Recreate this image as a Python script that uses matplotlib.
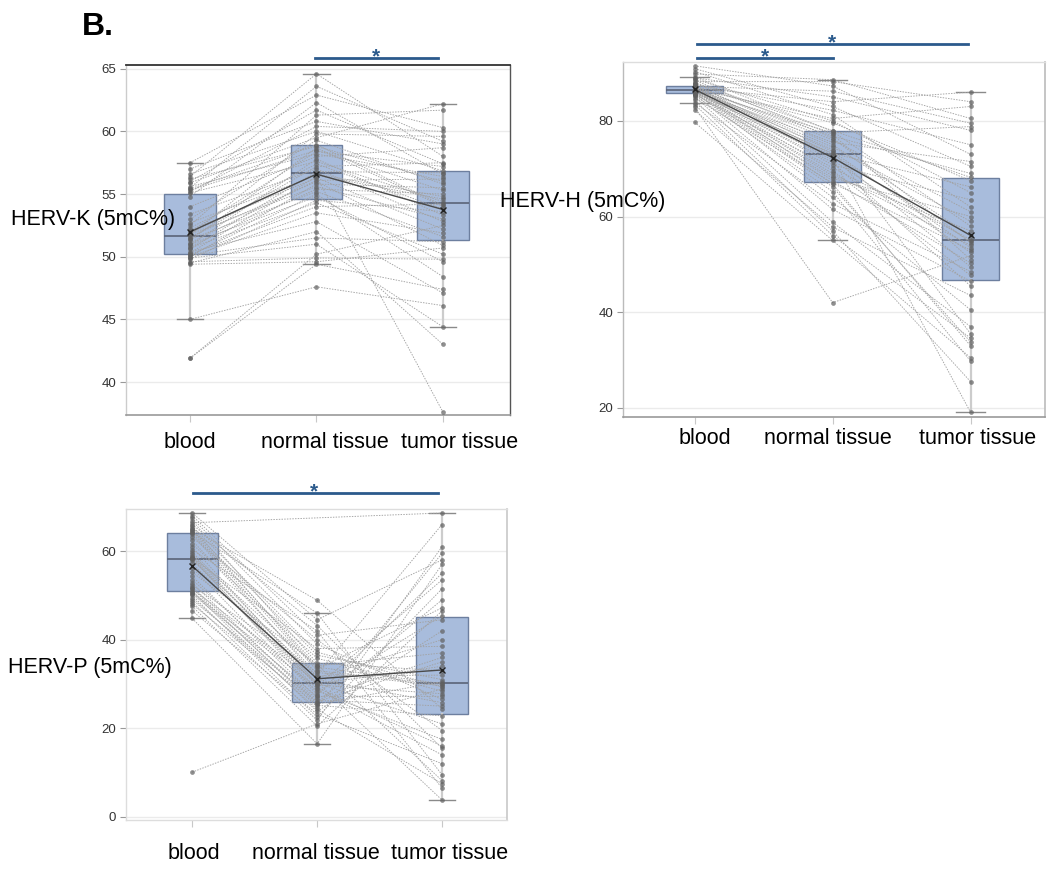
import matplotlib
matplotlib.use('Agg')
import matplotlib.pyplot as plt
from matplotlib.lines import Line2D
from matplotlib.transforms import blended_transform_factory, ScaledTranslation
import numpy as np

plt.rcParams['font.family'] = ['Liberation Sans', 'DejaVu Sans']

categories = ['blood', 'normal tissue', 'tumor tissue']

# HERV-K (5mC%) per patient
k_blood = [41.9, 41.9, 45.0, 49.4, 49.5, 49.6, 49.8, 49.9, 50.0, 50.0,
           50.1, 50.1, 50.2, 50.3, 50.4, 50.6, 50.7, 50.8, 50.9, 51.0,
           51.1, 51.3, 51.4, 51.5, 51.6, 51.7, 51.8, 51.9, 52.0, 52.1,
           52.3, 52.5, 52.7, 53.0, 53.4, 54.0, 54.8, 55.1, 55.2, 55.3,
           55.4, 55.5, 55.6, 55.9, 56.0, 56.2, 56.4, 56.6, 57.0, 57.5]
k_normal = [49.4, 50.2, 47.6, 49.6, 52.0, 49.9, 54.5, 51.0, 53.5, 55.8,
            51.5, 55.0, 54.0, 56.4, 52.8, 56.8, 54.3, 55.4, 57.8, 54.8,
            56.1, 58.7, 55.2, 57.2, 56.0, 59.8, 55.6, 56.6, 58.4, 56.3,
            57.4, 61.3, 56.5, 59.3, 57.0, 58.0, 62.3, 57.6, 60.4, 58.5,
            58.95, 63.6, 58.2, 59.5, 61.7, 58.8, 64.6, 60.0, 60.8, 62.9]
k_tumor = [47.4, 52.5, 46.1, 50.7, 43.0, 49.8, 53.6, 44.4, 51.9, 55.5,
           51.2, 48.4, 54.2, 37.6, 47.1, 56.7, 50.2, 55.0, 53.3, 49.6,
           56.2, 54.0, 51.6, 57.5, 50.9, 59.6, 53.0, 54.8, 57.2, 52.2,
           53.8, 61.7, 54.6, 55.8, 52.8, 58.7, 56.6, 54.4, 60.0, 55.3,
           54.1, 59.2, 56.4, 62.2, 57.4, 56.0, 58.0, 56.85, 59.0, 60.3]

# HERV-H (5mC%) per patient
h_blood = [79.7, 82.2, 82.8, 83.4, 83.8, 84.3, 84.8, 85.1, 85.3, 85.5,
           85.6, 85.7, 85.8, 85.9, 86.0, 86.0, 86.1, 86.2, 86.2, 86.3,
           86.3, 86.4, 86.4, 86.5, 86.5, 86.6, 86.6, 86.7, 86.7, 86.8,
           86.8, 86.9, 87.0, 87.0, 87.1, 87.2, 87.2, 87.4, 87.6, 87.8,
           88.0, 88.2, 88.5, 88.7, 89.0, 89.2, 89.8, 90.3, 90.9, 91.5]
h_normal = [55.0, 57.8, 42.0, 56.0, 62.7, 57.0, 67.0, 58.8, 65.2, 70.2,
            61.5, 68.0, 66.2, 72.3, 64.0, 73.2, 66.8, 69.0, 75.5, 67.5,
            71.3, 77.5, 68.5, 74.0, 70.8, 80.5, 69.6, 73.0, 76.8, 71.8,
            74.5, 84.0, 72.7, 79.6, 73.6, 76.0, 86.2, 75.0, 82.2, 77.2,
            77.95, 88.2, 76.4, 80.0, 85.0, 77.8, 88.6, 81.3, 83.0, 87.3]
h_tumor = [30.5, 43.5, 51.8, 34.6, 48.5, 25.5, 53.0, 37.0, 29.8, 55.2,
           46.5, 60.0, 33.8, 19.1, 40.5, 66.2, 33.0, 54.0, 71.5, 50.3,
           45.5, 78.8, 57.0, 35.5, 63.5, 83.0, 47.7, 54.8, 69.0, 52.5,
           59.0, 86.0, 49.5, 67.5, 53.5, 61.0, 79.5, 56.0, 75.0, 51.0,
           68.2, 84.0, 54.5, 65.0, 78.0, 58.0, 80.5, 62.0, 70.5, 73.0]

# HERV-P (5mC%) per patient (None = missing)
p_blood = [10.1, 44.8, 46.5, 47.5, 48.0, 48.5, 49.0, 49.5, 50.0, 50.3,
           50.6, 50.8, 51.0, 51.4, 51.6, 51.9, 52.3, 52.8, 53.5, 54.3,
           55.2, 56.2, 57.2, 58.0, 58.2, 58.4, 58.5, 58.7, 59.0, 59.4,
           59.8, 60.3, 60.9, 61.6, 62.4, 63.1, 63.8, 64.1, 64.3, 64.5,
           64.7, 65.0, 65.3, 65.6, 66.0, 66.4, 66.9, 67.4, 68.0, 68.6]
p_normal = [21.0, 16.5, 23.2, 20.5, 25.2, 21.8, 26.0, 24.3, 22.5, 27.2,
            29.2, 23.8, 25.5, 30.4, 24.8, 26.4, 32.6, 25.8, 28.4, 26.8,
            34.4, 27.6, 29.8, 31.8, 28.8, 38.0, 28.0, 30.2, 33.8, 29.5,
            31.0, 42.0, 30.0, 35.8, 32.2, 40.0, 31.4, 33.0, 46.0, 34.1,
            36.5, 48.9, 33.4, 37.2, 43.2, None, 34.7, 39.0, 41.0, 44.5]
p_tumor = [28.9, 57.0, 12.0, 46.5, 22.8, 61.0, 35.0, 7.5, 51.5, 27.2,
           16.0, 42.0, 30.5, 3.8, 59.5, 25.0, 29.6, 49.0, 17.5, 36.0,
           8.2, 55.0, 27.8, 32.0, 14.0, 38.5, 45.4, 21.0, 30.1, 53.5,
           25.8, 6.5, 34.0, 28.4, 66.0, 19.5, 40.0, 29.9, 9.5, 37.0,
           31.0, 24.4, 47.2, 29.3, 15.5, 68.6, 33.0, 26.5, 44.5, 58.0]

k_yticks = [40, 45, 50, 55, 60, 65]
h_yticks = [20, 40, 60, 80]
p_yticks = [0, 20, 40, 60]

W, H = 1056, 872
fig = plt.figure(figsize=(W / 100, H / 100), dpi=100)


def px_axes(l, t, r, b):
    return fig.add_axes([l / W, 1 - b / H, (r - l) / W, (b - t) / H])


BOX_FILL = '#a8bcdc'
BOX_EDGE = '#6d7f9f'
SIG = '#2b5a8c'


def draw_panel(ax, series, xlim, ylim, yticks, spines, label_dx, label_dy):
    data = [np.array([np.nan if v is None else v for v in s], float) for s in series]
    x = np.arange(len(categories))
    clean = [d[~np.isnan(d)] for d in data]
    ax.boxplot(clean, positions=x, widths=0.41, showfliers=False,
               patch_artist=True, whis=1.5, capwidths=0.21,
               boxprops=dict(facecolor=BOX_FILL, edgecolor=BOX_EDGE, linewidth=1.0),
               medianprops=dict(color='#5a6478', linewidth=1.2),
               whiskerprops=dict(color='#cccccc', linewidth=1.6),
               capprops=dict(color='#8a8a8a', linewidth=1.0),
               zorder=1)
    n = len(data[0])
    for i in range(n):
        vals = np.array([d[i] for d in data])
        m = ~np.isnan(vals)
        ax.plot(x[m], vals[m], color='#a2a2a2', lw=0.65,
                linestyle=(0, (1.6, 1.4)), zorder=2)
    for j, d in enumerate(clean):
        ax.plot(np.full(len(d), x[j]), d, 'o', ms=3.4, color='#606060',
                alpha=0.7, mec='none', zorder=3)
    means = [np.nanmean(d) for d in data]
    ax.plot(x, means, '-', color='#4a4a4a', lw=1.0, zorder=4)
    ax.plot(x, means, 'x', color='#222222', ms=4, mew=1.0, zorder=5)
    ax.set_xlim(*xlim)
    ax.set_ylim(*ylim)
    ax.set_yticks(yticks)
    ax.set_yticklabels([str(t) for t in yticks])
    ax.set_xticks(x)
    ax.set_xticklabels([])
    ax.yaxis.grid(True, color='#ebebeb', lw=1.0)
    ax.set_axisbelow(True)
    ax.tick_params(axis='y', length=4, width=0.8, color='#999999',
                   labelsize=9.5, labelcolor='#333333', pad=3)
    ax.tick_params(axis='x', length=5, width=0.8, color='#c8c8c8')
    for side, (c, lw) in spines.items():
        ax.spines[side].set_color(c)
        ax.spines[side].set_linewidth(lw)
    base = blended_transform_factory(ax.transData, ax.transAxes)
    for xi, cat, dx in zip(x, categories, label_dx):
        tr = base + ScaledTranslation(dx / 100, -label_dy / 100, fig.dpi_scale_trans)
        ax.text(xi, 0, cat, transform=tr, fontsize=15.5, color='black',
                ha='center', va='center', clip_on=False)


axK = px_axes(126, 65, 510, 415)
draw_panel(axK, [k_blood, k_normal, k_tumor], (-0.506, 2.53), (37.37, 65.3), k_yticks,
           {'top': ('#333333', 1.3), 'right': ('#555555', 1.0),
            'left': ('#cccccc', 1.0), 'bottom': ('#999999', 1.2)},
           label_dx=[0, 8, 17], label_dy=27)

axH = px_axes(623, 62, 1045, 417)
draw_panel(axH, [h_blood, h_normal, h_tumor], (-0.52, 2.54), (18.1, 92.3), h_yticks,
           {'top': ('#dddddd', 1.0), 'right': ('#bbbbbb', 1.2),
            'left': ('#bbbbbb', 1.0), 'bottom': ('#999999', 1.2)},
           label_dx=[10, -5, 7], label_dy=21)

axP = px_axes(126, 509, 507, 820)
draw_panel(axP, [p_blood, p_normal, p_tumor], (-0.53, 2.52), (-0.7, 69.5), p_yticks,
           {'top': ('#dddddd', 1.0), 'right': ('#c8c8c8', 1.2),
            'left': ('#dddddd', 1.0), 'bottom': ('#dddddd', 1.0)},
           label_dx=[2, -1, 8], label_dy=33)


def ftext(xp, yp, s, **kw):
    fig.text(xp / W, 1 - yp / H, s, **kw)


# panel letter
ftext(82, 35, 'B.', fontsize=23, fontweight='bold', va='baseline', ha='left')

# y labels (horizontal, overlapping the plots as in the source)
ftext(11, 220, 'HERV-K (5mC%)', fontsize=15.5, va='center', ha='left', zorder=10)
ftext(500, 201, 'HERV-H (5mC%)', fontsize=15.5, va='center', ha='left', zorder=10)
ftext(8, 667, 'HERV-P (5mC%)', fontsize=15.5, va='center', ha='left', zorder=10)


def sig_bar(x0, x1, y, xs, ys):
    fig.add_artist(Line2D([x0 / W, x1 / W], [1 - y / H, 1 - y / H],
                          color=SIG, lw=2.0, transform=fig.transFigure))
    fs = 15
    base = ys + 0.58 * fs * 100 / 72
    ftext(xs, base, '*', fontsize=fs, fontweight='bold', color=SIG,
          ha='center', va='baseline')


sig_bar(315, 438, 58, 376, 50)
sig_bar(697, 968, 44, 832, 36)
sig_bar(697, 833, 58, 765, 50)
sig_bar(193, 438, 493, 314, 485)

fig.savefig('out.png', dpi=100)
